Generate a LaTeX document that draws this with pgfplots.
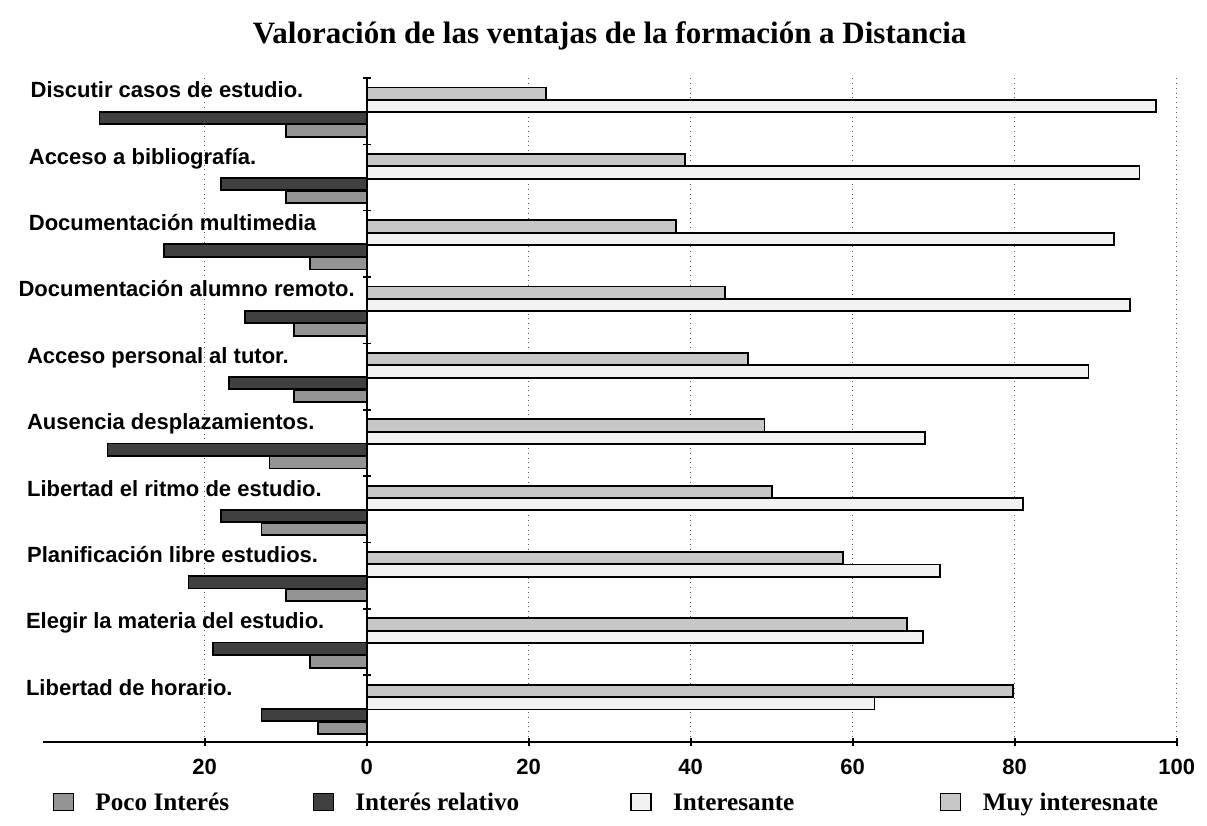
\documentclass[border=0pt]{standalone}
\usepackage{fontspec}
\setmainfont{Liberation Serif}
\newfontfamily\lsans{Liberation Sans}
\usepackage{pgfplots}
\pgfplotsset{compat=1.18}
\usepackage{pgfplotstable}

% k: category position from bottom (9 = top)
\pgfplotstableread{
k muy int rel poco
9 22.1 97.4 -33 -10
8 39.3 95.4 -18 -10
7 38.2 92.3 -25 -7
6 44.2 94.2 -15 -9
5 47.1 89.1 -17 -9
4 49.1 68.9 -32 -12
3 50.0 81.0 -18 -13
2 58.8 70.8 -22 -10
1 66.7 68.7 -19 -7
0 79.8 62.7 -13 -6
}\datatable

\newcommand{\catfont}{\lsans\bfseries\fontsize{11}{13}\selectfont}

\begin{document}
\begin{tikzpicture}
\begin{axis}[
  name=ax,
  scale only axis,
  width=567pt, height=331.75pt,
  xmin=-40, xmax=100, ymin=0, ymax=10,
  xbar, bar shift=0pt, bar width=0.185,
  axis x line*=bottom, axis y line*=middle,
  xtick={-20,0,20,40,60,80,100},
  xticklabels={20,0,20,40,60,80,100},
  ytick={0,...,10}, yticklabels={},
  tick align=center, major tick length=4pt,
  tick style={black, line width=0.8pt},
  axis line style={black, line width=1pt},
  xmajorgrids, major grid style={black!65, dotted, line width=0.7pt},
  xticklabel style={font=\catfont, anchor=base, yshift=-14.25pt},
  clip=false,
  legend columns=4, reverse legend,
  legend style={draw=none, fill=none, inner sep=0pt, outer sep=0pt,
    at={(0,0)}, anchor=north west, xshift=5pt, yshift=-25.5pt,
    font=\bfseries\fontsize{12.6}{14}\selectfont,
    nodes={inner sep=0pt, text height=9pt, text depth=3pt},
    column sep=0pt,
    /tikz/every odd column/.append style={column sep=10.8pt}},
  legend image code/.code={\draw[#1, line width=0.6pt] (0pt,-3pt) rectangle (10pt,5.5pt);},
]
\addplot[fill=black!22, draw=black, line width=0.9pt]
  table[x=muy, y expr=\thisrow{k}+0.764]{\datatable};
\addlegendentry{Muy interesnate}
\addplot[fill=black!5, draw=black, line width=0.9pt]
  table[x=int, y expr=\thisrow{k}+0.576]{\datatable};
\addlegendentry{\makebox[133.5pt][l]{Interesante}}
\addplot[fill=black!75, draw=black, line width=0.9pt]
  table[x=rel, y expr=\thisrow{k}+0.40]{\datatable};
\addlegendentry{\makebox[137.5pt][l]{Interés relativo}}
\addplot[fill=black!42, draw=black, line width=0.9pt]
  table[x=poco, y expr=\thisrow{k}+0.206]{\datatable};
\addlegendentry{\makebox[108.5pt][l]{Poco Interés}}

\node[anchor=base west, font=\catfont] at (axis cs:-42.35,9.70) {Discutir casos de estudio.};
\node[anchor=base west, font=\catfont] at (axis cs:-42.58,8.70) {Acceso a bibliografía.};
\node[anchor=base west, font=\catfont] at (axis cs:-42.58,7.70) {Documentación multimedia};
\node[anchor=base west, font=\catfont] at (axis cs:-43.85,6.70) {Documentación alumno remoto.};
\node[anchor=base west, font=\catfont] at (axis cs:-42.8,5.70) {Acceso personal al tutor.};
\node[anchor=base west, font=\catfont] at (axis cs:-42.8,4.70) {Ausencia desplazamientos.};
\node[anchor=base west, font=\catfont] at (axis cs:-42.8,3.70) {Libertad el ritmo de estudio.};
\node[anchor=base west, font=\catfont] at (axis cs:-42.8,2.70) {Planificación libre estudios.};
\node[anchor=base west, font=\catfont] at (axis cs:-42.93,1.70) {Elegir la materia del estudio.};
\node[anchor=base west, font=\catfont] at (axis cs:-42.93,0.70) {Libertad de horario.};
\end{axis}
\node[anchor=base, font=\bfseries\fontsize{15.5}{18}\selectfont] at ([yshift=17pt]ax.north) {Valoración de las ventajas de la formación a Distancia};
\pgfresetboundingbox
\path[use as bounding box] ([xshift=-21.35pt,yshift=-41.75pt]ax.south west) rectangle ([xshift=15.15pt,yshift=39pt]ax.north east);
\end{tikzpicture}
\end{document}
